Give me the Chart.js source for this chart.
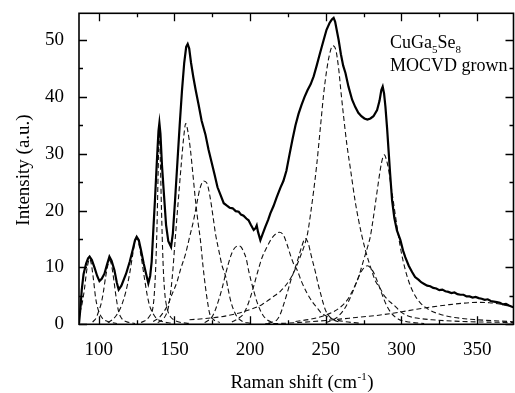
<!DOCTYPE html>
<html>
<head>
<meta charset="utf-8">
<script src="https://cdn.jsdelivr.net/npm/chart.js@4.4.1/dist/chart.umd.min.js"></script>
<style>
  html, body { margin: 0; padding: 0; background: #fff; }
  #wrap { width: 515px; height: 393px; }
</style>
</head>
<body>
<div id="wrap"><canvas id="raman" width="515" height="393"></canvas></div>
<script>
// Axis ranges and ticks
const xRange = [87, 374];
const yRange = [0, 54.7];
const xMajorTicks = [100, 150, 200, 250, 300, 350];
const xMinorTicks = [125, 175, 225, 275, 325];
const yMajorTicks = [0, 10, 20, 30, 40, 50];
const yMinorTicks = [5, 15, 25, 35, 45];

// Measured spectrum (solid line), [shift, intensity]
const measured = [
  [87, 0.1], [88, 3], [88.8, 6], [90, 8.8], [91.7, 10.7], [93, 11.6], [94, 11.9], [95.5, 11.3],
  [97.2, 10], [99, 8.5], [100.5, 7.6], [102, 8], [103.8, 8.9], [105.5, 10.5], [107.1, 11.9],
  [108.5, 11.2], [110.4, 9.5], [112, 7.3], [113.2, 6.1], [115, 6.8], [118.1, 8.9], [120.5, 11],
  [122.5, 13.1], [124, 14.8], [125.1, 15.4], [126.5, 14.8], [128, 13], [129.8, 10.6], [131.3, 8.9],
  [132.8, 7.2], [134, 8.5], [135, 11], [136.1, 16.6], [137.2, 22], [138.5, 29], [139.5, 34],
  [140.1, 35.4], [140.8, 33.5], [141.8, 28], [143.2, 22.5], [144.5, 17.5], [146, 14.6], [147.8, 13.6],
  [149, 16], [150.5, 22], [152, 28.5], [153.5, 35], [155, 41], [156.5, 46], [157.8, 48.8],
  [158.8, 49.3], [159.8, 48.5], [161, 46], [162.5, 43.5], [164, 41.3], [166, 38.6], [168, 35.8],
  [170.5, 33.4], [172.5, 30.8], [174.5, 28.6], [176.5, 26.4], [178.5, 24.1], [180.4, 22.8],
  [182.6, 21.3], [184.5, 20.9], [186.5, 20.5], [188.5, 20.4], [190.5, 19.9], [192.5, 19.8],
  [194, 19.3], [195.7, 19.1], [197.5, 18.6], [199, 18.3], [200.5, 17.5], [202.4, 16.6],
  [203.6, 16.9], [204.4, 17.4], [205.2, 16.3], [206.8, 14.8], [208.2, 15.8], [210, 17.1],
  [212, 18.4], [213.4, 19.5], [215.5, 20.8], [217.5, 22.3], [220, 24], [222, 25.2], [224, 27],
  [226, 29.8], [228, 32.5], [230, 35], [232, 37], [234, 38.6], [236, 40], [238, 41.2], [240, 42.2],
  [242, 43.6], [244, 45.5], [246, 47.5], [248.6, 50], [250.5, 51.8], [252.5, 53], [254, 53.6],
  [255.2, 53.9], [256.2, 53.2], [257.2, 51.8], [258.5, 50], [260, 47.5], [261.5, 45.5], [263, 44.2],
  [265, 41.8], [267.4, 39.5], [269.5, 38.2], [271.5, 37.2], [273.5, 36.6], [275.5, 36.2],
  [277.5, 36], [279.5, 36.2], [281.5, 36.6], [283.9, 37.7], [285.5, 39.3], [286.7, 41.2],
  [287.6, 41.8], [288.5, 40.6], [289.4, 38.3], [290.5, 34.5], [291.5, 30.5], [292.5, 26.5],
  [293.8, 21.8], [295.3, 18.7], [297, 16.5], [299.3, 14.8], [301, 13], [302.5, 11.8], [304.8, 10.3],
  [307, 9.2], [309, 8.3], [311.4, 7.8], [313, 7.4], [315, 7.1], [317, 6.8], [319, 6.7], [321, 6.4],
  [323, 6.3], [325, 6], [327, 6.1], [329, 5.8], [331, 5.7], [333, 5.5], [335, 5.6], [337, 5.3],
  [339, 5.2], [341, 5.2], [343, 4.9], [345, 4.9], [347, 4.7], [349, 4.8], [351, 4.6], [353, 4.5],
  [355, 4.3], [357, 4.4], [359, 4.1], [361, 4], [363, 3.9], [365, 3.8], [367, 3.5], [369, 3.6],
  [371, 3.3], [373, 3.1], [374, 3]
];

// Fitted components (dashed lines)
const peak94 = [[87.5, 2.0], [89, 3.6], [90.5, 6], [92, 9.3], [93.2, 11], [94, 11.5], [95, 10.8],
  [96.5, 8], [98, 4.6], [99.2, 3], [100, 2.3], [101.5, 1.4], [103.5, 0.8], [107, 0.4], [112, 0.15]];
const peak107 = [[96, 0.4], [98.5, 1.2], [100, 2.3], [101.5, 3.5], [103, 5.5], [104.5, 8.2], [106, 10.3],
  [107.2, 11.2], [108.5, 10.4], [110, 7.8], [111.5, 4.8], [113.2, 2.2], [115, 1.1], [118, 0.5], [124, 0.15]];
const peak125 = [[106, 0.3], [109, 0.8], [111.5, 1.5], [113.2, 2.2], [115.5, 3.6], [118, 5.8], [120.5, 9],
  [122.5, 12.3], [124, 14.5], [125, 15], [126.2, 14.5], [128, 12], [130, 8.5], [132, 5.2], [133.7, 3.2],
  [135.3, 2.2], [138, 1.1], [142, 0.5], [148, 0.2]];
const peak140 = [[128, 0.3], [132, 0.9], [134, 1.6], [135.3, 2.2], [136.5, 4.5], [137.5, 9], [138.5, 17],
  [139.3, 27], [140, 34.8], [140.7, 29], [141.5, 20], [142.5, 11], [143.5, 6], [145, 3], [147, 1.5],
  [149, 0.9], [153, 0.4], [160, 0.15]];
const peak158 = [[139, 0.3], [142, 0.8], [144.5, 1.7], [146.2, 3.2], [148.5, 8], [150.7, 15.5],
  [152.8, 22.5], [154.5, 28], [156, 32.5], [157.5, 35.3], [159, 33.8], [160.6, 30.7], [162.2, 26.5],
  [163.9, 21.9], [165.5, 18.2], [167.2, 14.8], [168.8, 10.5], [170.5, 6.6], [172, 3.8], [173.3, 1.9],
  [175.5, 0.9], [180, 0.3]];
const peak169 = [[136, 0.5], [140, 1.2], [143, 2.2], [146, 3.6], [148, 5], [151.8, 7.5], [154, 9.6],
  [157.5, 12.5], [160, 15.3], [162.7, 18.3], [165, 21.5], [167, 24], [169.4, 25.2], [171.5, 24.8],
  [173.5, 22.5], [175.5, 19], [177.1, 16], [179.5, 12.8], [181.5, 10.3], [183.7, 8.6], [185.5, 6.2],
  [187.5, 3.8], [189.5, 2.3], [191.4, 1.3], [195, 0.5], [200, 0.2]];
const peak193 = [[170, 0.3], [173, 0.8], [174.9, 1.3], [177, 2.5], [179.3, 4.3], [181.5, 6.3],
  [183.7, 8.7], [185.5, 10.5], [187.2, 12], [189, 13.1], [191, 13.7], [192.5, 13.8], [194, 13.6],
  [195.7, 12.8], [197.5, 11.5], [199, 9.5], [200.7, 7.6], [202.5, 5.8], [204.5, 4], [206.5, 2.6],
  [208.5, 1.6], [211.2, 0.8], [215, 0.3]];
const peak220 = [[188, 0.4], [192, 1], [195.8, 1.9], [199, 3.8], [202.4, 6.7], [205, 9.2], [208, 11.8],
  [211.2, 13.6], [214, 15], [217, 15.9], [219.5, 16.2], [222, 15.7], [224.5, 14], [226.6, 12.2],
  [229, 10.5], [231, 9.6], [234, 7.5], [237.6, 5.5], [241, 4], [244.3, 2.9], [247, 2], [250, 1.5],
  [255, 0.9], [262, 0.5], [272, 0.2]];
const peak237 = [[212, 0.2], [215, 0.4], [217.8, 0.8], [220, 1.8], [222.2, 3.5], [224.4, 5.4], [227, 7.8],
  [229.9, 10], [232, 11.8], [234, 13.6], [236.5, 15.1], [238.5, 14.2], [240, 12.5], [242, 10.4],
  [243.5, 8.8], [245, 7], [246.5, 5.5], [248, 4], [249.8, 2.5], [252, 1.5], [255, 0.8], [260, 0.3]];
const peak255 = [[160, 0.8], [170, 1], [180, 1.3], [190, 1.8], [200, 2.6], [208, 3.5], [215, 4.8],
  [220, 5.8], [224, 7], [227, 8.2], [230, 9.8], [233, 11.8], [235.4, 13.5], [238, 16], [240, 19.5],
  [242, 23.5], [244, 28], [246.4, 34.5], [248.6, 40.5], [250.5, 44.5], [252.5, 47.5], [254.6, 49],
  [256.5, 48.4], [258.5, 45], [260, 41], [261.8, 36.5], [264, 31.5], [266.2, 27.5], [269.5, 21.5],
  [271.7, 18.3], [273.9, 15.5], [276.2, 13], [278.3, 11.1], [280.5, 9.3], [282.8, 7.6], [286, 6.3],
  [288.2, 5.2], [291, 4.3], [294.9, 3.4], [300, 2.1], [304, 1.5], [310, 1.1], [320, 0.8], [340, 0.5],
  [374, 0.3]];
const peak277 = [[250, 0.3], [255, 0.8], [259, 1.6], [263, 3], [267, 5.2], [270.5, 7.5], [273.5, 9.3],
  [277.5, 10.3], [281, 9.4], [284, 7.6], [287, 5.4], [290, 3.4], [293.5, 1.9], [298, 0.9], [305, 0.4],
  [315, 0.15]];
const peak289 = [[230, 0.5], [240, 0.9], [245, 1.2], [250.9, 1.7], [255, 2.2], [259.6, 3], [264, 4.2],
  [268.4, 6.3], [272, 8.6], [275, 11.3], [277.5, 13.5], [279.4, 15.4], [281, 18], [282.8, 21.3],
  [284.5, 24.5], [286, 27.2], [287.5, 29.2], [288.7, 29.8], [290, 29], [291.5, 27.2], [293, 24.5],
  [294.8, 21.3], [296.5, 18.2], [298.1, 15.4], [300, 12.5], [302.6, 9.5], [305, 7.4], [308, 5.5],
  [312, 3.9], [318, 2.6], [325, 1.8], [335, 1.2], [350, 0.8], [374, 0.45]];
const peak350 = [[210, 0.1], [220, 0.15], [240, 0.45], [255, 0.8], [270, 1.2], [285, 1.6], [298, 2.1],
  [310, 2.65], [320, 3.05], [330, 3.4], [340, 3.7], [350, 3.85], [358, 3.8], [366, 3.5], [374, 3.05]];

const components = [peak94, peak107, peak125, peak140, peak158, peak169, peak193,
  peak220, peak237, peak255, peak277, peak289, peak350];

const toPoints = arr => arr.map(p => ({ x: p[0], y: p[1] }));

const SERIF = '"Liberation Serif", "Times New Roman", serif';

// Frame, inward ticks and all the text
const framePlugin = {
  id: 'frame',
  afterDraw(chart) {
    const { ctx, chartArea: a, scales: { x, y } } = chart;
    ctx.save();
    ctx.strokeStyle = '#000';
    ctx.lineWidth = 1.6;
    ctx.strokeRect(a.left, a.top, a.right - a.left, a.bottom - a.top);

    ctx.lineWidth = 1.3;
    const xTick = (v, len) => {
      const px = Math.round(x.getPixelForValue(v)) + 0.5;
      ctx.beginPath();
      ctx.moveTo(px, a.bottom); ctx.lineTo(px, a.bottom - len);
      ctx.moveTo(px, a.top); ctx.lineTo(px, a.top + len);
      ctx.stroke();
    };
    const yTick = (v, len) => {
      const py = Math.round(y.getPixelForValue(v)) + 0.5;
      ctx.beginPath();
      ctx.moveTo(a.left, py); ctx.lineTo(a.left + len, py);
      ctx.moveTo(a.right, py); ctx.lineTo(a.right - len, py);
      ctx.stroke();
    };
    xMajorTicks.forEach(v => xTick(v, 8));
    xMinorTicks.forEach(v => xTick(v, 4));
    yMajorTicks.forEach(v => yTick(v, 8));
    yMinorTicks.forEach(v => yTick(v, 4));

    ctx.fillStyle = '#000';
    ctx.font = '19px ' + SERIF;
    ctx.textAlign = 'center';
    ctx.textBaseline = 'alphabetic';
    xMajorTicks.forEach(v => ctx.fillText(String(v), x.getPixelForValue(v), 355));
    ctx.textAlign = 'right';
    ctx.textBaseline = 'middle';
    yMajorTicks.forEach(v => ctx.fillText(String(v), 64, y.getPixelForValue(v)));

    // x title with superscript
    ctx.textBaseline = 'alphabetic';
    ctx.textAlign = 'left';
    const main = 'Raman shift (cm', sup = '-1', close = ')';
    ctx.font = '19px ' + SERIF;
    const wMain = ctx.measureText(main).width, wClose = ctx.measureText(close).width;
    ctx.font = '11px ' + SERIF;
    const wSup = ctx.measureText(sup).width;
    let tx = 301.5 - (wMain + wSup + wClose) / 2;
    ctx.font = '19px ' + SERIF;
    ctx.fillText(main, tx, 388);
    ctx.font = '11px ' + SERIF;
    ctx.fillText(sup, tx + wMain + 0.5, 380);
    ctx.font = '19px ' + SERIF;
    ctx.fillText(close, tx + wMain + wSup + 1, 388);

    // y title
    ctx.save();
    ctx.translate(28.5, 170);
    ctx.rotate(-Math.PI / 2);
    ctx.textAlign = 'center';
    ctx.fillText('Intensity (a.u.)', 0, 0);
    ctx.restore();

    // annotation
    const parts = [['Cu', 0], ['Ga', 0], ['5', 1], ['Se', 0], ['8', 1]];
    let ax = 390;
    parts.forEach(([t, sub]) => {
      ctx.font = (sub ? '11px ' : '18px ') + SERIF;
      ctx.fillText(t, ax, sub ? 53 : 48);
      ax += ctx.measureText(t).width;
    });
    ctx.font = '18px ' + SERIF;
    ctx.fillText('MOCVD grown', 390, 71);
    ctx.restore();
  }
};

const datasets = components.map(c => ({
  data: toPoints(c),
  borderColor: '#111',
  borderWidth: 1.1,
  borderDash: [5, 3],
  cubicInterpolationMode: 'monotone',
  pointRadius: 0,
  fill: false,
  order: 1
}));
datasets.push({
  data: toPoints(measured),
  borderColor: '#000',
  borderWidth: 2.2,
  tension: 0,
  pointRadius: 0,
  fill: false,
  order: 0
});

new Chart(document.getElementById('raman'), {
  type: 'line',
  data: { datasets },
  options: {
    responsive: false,
    animation: false,
    devicePixelRatio: 1,
    layout: { padding: { left: 79, right: 1.5, top: 13.3, bottom: 68.7 } },
    scales: {
      x: { type: 'linear', min: xRange[0], max: xRange[1], display: false },
      y: { type: 'linear', min: yRange[0], max: yRange[1], display: false }
    },
    plugins: { legend: { display: false }, tooltip: { enabled: false } }
  },
  plugins: [framePlugin]
});
</script>
</body>
</html>
